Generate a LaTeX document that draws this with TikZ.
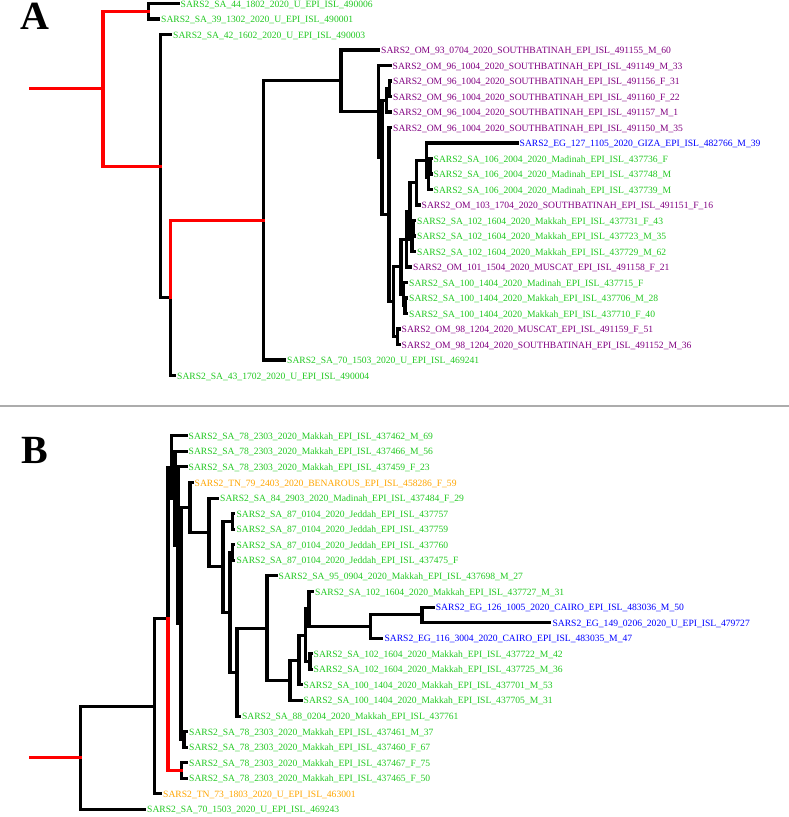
\documentclass[tikz,border=0pt]{standalone}
\usepackage{fontspec}
\setmainfont{Liberation Serif}
\definecolor{cg}{RGB}{34,200,34}
\definecolor{cp}{RGB}{128,0,128}
\definecolor{cb}{RGB}{0,0,255}
\definecolor{co}{RGB}{255,165,0}
\definecolor{cr}{RGB}{255,0,0}
\tikzset{
  lab/.style={anchor=base west, inner sep=0pt, xshift=2.5pt, yshift=-3.5pt, font=\fontsize{9.6}{11}\selectfont},
  br/.style={line width=3.1pt, line cap=rect, line join=miter, draw=black},
  rd/.style={br, draw=cr},
  sepline/.style={draw=gray!65, line width=1.3pt},
  panel/.style={anchor=base west, inner sep=0pt, font=\fontsize{40}{40}\selectfont\bfseries}
}
\newcommand\mkleaf[4]{\coordinate (#1) at (#2); \node[lab,text=#3] (t#1) at (#1) {\detokenize{#4}};}
\newcommand\edg[3][br]{\draw[#1] (#2) |- (#3);}
\begin{document}
\begin{tikzpicture}[x=1pt,y=-1pt]
\useasboundingbox (0,0) rectangle (789,817);
\node[panel] (pA) at (20.5,29.8) {A};
\node[panel] (pB) at (21,463.3) {B};
\coordinate (sl) at (0,406);
\coordinate (sr) at (789,406);
\draw[sepline] (sl) -- (sr);
% ---------- Panel A leaves
\mkleaf{a1}{178,3.5}{cg}{SARS2_SA_44_1802_2020_U_EPI_ISL_490006}
\mkleaf{a2}{158.5,19}{cg}{SARS2_SA_39_1302_2020_U_EPI_ISL_490001}
\mkleaf{a3}{170.5,34.5}{cg}{SARS2_SA_42_1602_2020_U_EPI_ISL_490003}
\mkleaf{a4}{378.5,50}{cp}{SARS2_OM_93_0704_2020_SOUTHBATINAH_EPI_ISL_491155_M_60}
\mkleaf{a5}{390,65.5}{cp}{SARS2_OM_96_1004_2020_SOUTHBATINAH_EPI_ISL_491149_M_33}
\mkleaf{a6}{390.5,81}{cp}{SARS2_OM_96_1004_2020_SOUTHBATINAH_EPI_ISL_491156_F_31}
\mkleaf{a7}{390.5,96.5}{cp}{SARS2_OM_96_1004_2020_SOUTHBATINAH_EPI_ISL_491160_F_22}
\mkleaf{a8}{390.5,112}{cp}{SARS2_OM_96_1004_2020_SOUTHBATINAH_EPI_ISL_491157_M_1}
\mkleaf{a9}{390.5,127.5}{cp}{SARS2_OM_96_1004_2020_SOUTHBATINAH_EPI_ISL_491150_M_35}
\mkleaf{a10}{517,143}{cb}{SARS2_EG_127_1105_2020_GIZA_EPI_ISL_482766_M_39}
\mkleaf{a11}{431,158.5}{cg}{SARS2_SA_106_2004_2020_Madinah_EPI_ISL_437736_F}
\mkleaf{a12}{431,174}{cg}{SARS2_SA_106_2004_2020_Madinah_EPI_ISL_437748_M}
\mkleaf{a13}{431,189.5}{cg}{SARS2_SA_106_2004_2020_Madinah_EPI_ISL_437739_M}
\mkleaf{a14}{419,205}{cp}{SARS2_OM_103_1704_2020_SOUTHBATINAH_EPI_ISL_491151_F_16}
\mkleaf{a15}{414.5,220.5}{cg}{SARS2_SA_102_1604_2020_Makkah_EPI_ISL_437731_F_43}
\mkleaf{a16}{414.5,236}{cg}{SARS2_SA_102_1604_2020_Makkah_EPI_ISL_437723_M_35}
\mkleaf{a17}{414.5,251.5}{cg}{SARS2_SA_102_1604_2020_Makkah_EPI_ISL_437729_M_62}
\mkleaf{a18}{410.5,267}{cp}{SARS2_OM_101_1504_2020_MUSCAT_EPI_ISL_491158_F_21}
\mkleaf{a19}{406.5,282.5}{cg}{SARS2_SA_100_1404_2020_Madinah_EPI_ISL_437715_F}
\mkleaf{a20}{406.5,298}{cg}{SARS2_SA_100_1404_2020_Makkah_EPI_ISL_437706_M_28}
\mkleaf{a21}{406.5,313.5}{cg}{SARS2_SA_100_1404_2020_Makkah_EPI_ISL_437710_F_40}
\mkleaf{a22}{399,329}{cp}{SARS2_OM_98_1204_2020_MUSCAT_EPI_ISL_491159_F_51}
\mkleaf{a23}{399,344.5}{cp}{SARS2_OM_98_1204_2020_SOUTHBATINAH_EPI_ISL_491152_M_36}
\mkleaf{a24}{284.5,360}{cg}{SARS2_SA_70_1503_2020_U_EPI_ISL_469241}
\mkleaf{a25}{174.5,375.5}{cg}{SARS2_SA_43_1702_2020_U_EPI_ISL_490004}
% ---------- Panel A internal nodes
\coordinate (rA0) at (30.5,88.73);
\coordinate (rA) at (103,88.73);
\coordinate (Ntop) at (148.5,11.25);
\coordinate (N160) at (160.5,166.22);
\coordinate (N170) at (170.5,297.94);
\coordinate (N263) at (263.5,220.375);
\coordinate (N341) at (341,80.75);
\coordinate (N378) at (378.5,111.5);
\coordinate (X) at (382,157.49);
\coordinate (Y1) at (386.5,100.375);
\coordinate (Y2) at (389.5,88.75);
\coordinate (Z) at (389,214.6);
\coordinate (W) at (393.5,301.7);
\coordinate (P5) at (401,266.64);
\coordinate (P4) at (406.5,239.15);
\coordinate (P3) at (410,211.3);
\coordinate (P2) at (416.5,182.72);
\coordinate (P1) at (426.5,160.44);
\coordinate (N106) at (428.5,177.875);
\coordinate (N106a) at (430,166.25);
\coordinate (N102b) at (412,239.875);
\coordinate (N102) at (413.5,228.25);
\coordinate (N100) at (403.5,294.125);
\coordinate (N100a) at (405,305.75);
\coordinate (NOM) at (397.5,336.75);
% ---------- Panel A branches
\edg{Ntop}{a1} \edg{Ntop}{a2}
\edg{N160}{a3} \edg{N160}{N170}
\edg{N170}{a25}
\edg{N263}{N341} \edg{N263}{a24}
\edg{N341}{a4} \edg{N341}{N378}
\edg{N378}{a5} \edg{N378}{X}
\edg{X}{Y1} \edg{X}{Z}
\edg{Y1}{Y2} \edg{Y1}{a8}
\edg{Y2}{a6} \edg{Y2}{a7}
\edg{Z}{a9} \edg{Z}{W}
\edg{W}{P5} \edg{W}{NOM}
\edg{NOM}{a22} \edg{NOM}{a23}
\edg{P5}{P4} \edg{P5}{N100}
\edg{N100}{a19} \edg{N100}{N100a}
\edg{N100a}{a20} \edg{N100a}{a21}
\edg{P4}{P3} \edg{P4}{a18}
\edg{P3}{P2} \edg{P3}{N102b}
\edg{N102b}{N102} \edg{N102b}{a17}
\edg{N102}{a15} \edg{N102}{a16}
\edg{P2}{P1} \edg{P2}{a14}
\edg{P1}{a10} \edg{P1}{N106}
\edg{N106}{N106a} \edg{N106}{a13}
\edg{N106a}{a11} \edg{N106a}{a12}
\draw[rd] (rA0) -- (rA);
\edg[rd]{rA}{Ntop} \edg[rd]{rA}{N160}
\edg[rd]{N170}{N263}
% ---------- Panel B leaves
\mkleaf{b1}{186,435.8}{cg}{SARS2_SA_78_2303_2020_Makkah_EPI_ISL_437462_M_69}
\mkleaf{b2}{186,451.37}{cg}{SARS2_SA_78_2303_2020_Makkah_EPI_ISL_437466_M_56}
\mkleaf{b3}{186,466.94}{cg}{SARS2_SA_78_2303_2020_Makkah_EPI_ISL_437459_F_23}
\mkleaf{b4}{192,482.51}{co}{SARS2_TN_79_2403_2020_BENAROUS_EPI_ISL_458286_F_59}
\mkleaf{b5}{217.5,498.08}{cg}{SARS2_SA_84_2903_2020_Madinah_EPI_ISL_437484_F_29}
\mkleaf{b6}{233.8,513.65}{cg}{SARS2_SA_87_0104_2020_Jeddah_EPI_ISL_437757}
\mkleaf{b7}{233.8,529.22}{cg}{SARS2_SA_87_0104_2020_Jeddah_EPI_ISL_437759}
\mkleaf{b8}{233.8,544.79}{cg}{SARS2_SA_87_0104_2020_Jeddah_EPI_ISL_437760}
\mkleaf{b9}{233.8,560.36}{cg}{SARS2_SA_87_0104_2020_Jeddah_EPI_ISL_437475_F}
\mkleaf{b10}{276,575.93}{cg}{SARS2_SA_95_0904_2020_Makkah_EPI_ISL_437698_M_27}
\mkleaf{b11}{312.5,591.5}{cg}{SARS2_SA_102_1604_2020_Makkah_EPI_ISL_437727_M_31}
\mkleaf{b12}{433.2,607.07}{cb}{SARS2_EG_126_1005_2020_CAIRO_EPI_ISL_483036_M_50}
\mkleaf{b13}{549.8,622.64}{cb}{SARS2_EG_149_0206_2020_U_EPI_ISL_479727}
\mkleaf{b14}{381.8,638.21}{cb}{SARS2_EG_116_3004_2020_CAIRO_EPI_ISL_483035_M_47}
\mkleaf{b15}{311,653.78}{cg}{SARS2_SA_102_1604_2020_Makkah_EPI_ISL_437722_M_42}
\mkleaf{b16}{311,669.35}{cg}{SARS2_SA_102_1604_2020_Makkah_EPI_ISL_437725_M_36}
\mkleaf{b17}{301,684.92}{cg}{SARS2_SA_100_1404_2020_Makkah_EPI_ISL_437701_M_53}
\mkleaf{b18}{301,700.49}{cg}{SARS2_SA_100_1404_2020_Makkah_EPI_ISL_437705_M_31}
\mkleaf{b19}{239.3,716.06}{cg}{SARS2_SA_88_0204_2020_Makkah_EPI_ISL_437761}
\mkleaf{b20}{186.5,731.63}{cg}{SARS2_SA_78_2303_2020_Makkah_EPI_ISL_437461_M_37}
\mkleaf{b21}{186.5,747.2}{cg}{SARS2_SA_78_2303_2020_Makkah_EPI_ISL_437460_F_67}
\mkleaf{b22}{186.5,762.77}{cg}{SARS2_SA_78_2303_2020_Makkah_EPI_ISL_437467_F_75}
\mkleaf{b23}{186.5,778.34}{cg}{SARS2_SA_78_2303_2020_Makkah_EPI_ISL_437465_F_50}
\mkleaf{b24}{160.5,793.91}{co}{SARS2_TN_73_1803_2020_U_EPI_ISL_463001}
\mkleaf{b25}{144.5,809.48}{cg}{SARS2_SA_70_1503_2020_U_EPI_ISL_469243}
% ---------- Panel B internal nodes
\coordinate (rB0) at (30.5,757.92);
\coordinate (rB) at (80.5,757.92);
\coordinate (NB1) at (154.5,706.36);
\coordinate (NB2) at (168,618.8);
\coordinate (NB3) at (171.5,467.05);
\coordinate (NB4) at (175,498.3);
\coordinate (NB5) at (178,545.2);
\coordinate (NB6) at (181,623.45);
\coordinate (NB8) at (190,507.5);
\coordinate (NBig) at (209,532.5);
\coordinate (NJ) at (223,566.9);
\coordinate (NJ1) at (232.3,521.4);
\coordinate (NJ2) at (230,612.3);
\coordinate (NJ3) at (232.5,552.58);
\coordinate (NM) at (237,672.1);
\coordinate (NK) at (267,628.1);
\coordinate (NL) at (290,680.3);
\coordinate (NL1) at (299,660.1);
\coordinate (NN) at (305.5,635.3);
\coordinate (NO) at (309,609.0);
\coordinate (NP) at (310,661.57);
\coordinate (NEg) at (370.5,626.53);
\coordinate (NEg2) at (422,614.855);
\coordinate (N2021) at (184,739.4);
\coordinate (NBr) at (181.5,770.56);
% ---------- Panel B branches
\edg{rB}{NB1} \edg{rB}{b25}
\edg{NB1}{NB2} \edg{NB1}{b24}
\edg{NB2}{NB3}
\edg{NBr}{b22} \edg{NBr}{b23}
\edg{NB3}{b1} \edg{NB3}{NB4}
\edg{NB4}{b2} \edg{NB4}{NB5}
\edg{NB5}{b3} \edg{NB5}{NB6}
\edg{NB6}{NB8} \edg{NB6}{N2021}
\edg{N2021}{b20} \edg{N2021}{b21}
\edg{NB8}{b4} \edg{NB8}{NBig}
\edg{NBig}{b5} \edg{NBig}{NJ}
\edg{NJ}{NJ1} \edg{NJ}{NJ2}
\edg{NJ1}{b6} \edg{NJ1}{b7}
\edg{NJ2}{NJ3} \edg{NJ2}{NM}
\edg{NJ3}{b8} \edg{NJ3}{b9}
\edg{NM}{NK} \edg{NM}{b19}
\edg{NK}{b10} \edg{NK}{NL}
\edg{NL}{NL1} \edg{NL}{b18}
\edg{NL1}{NN} \edg{NL1}{b17}
\edg{NN}{NO} \edg{NN}{NP}
\edg{NO}{b11} \edg{NO}{NEg}
\edg{NP}{b15} \edg{NP}{b16}
\edg{NEg}{NEg2} \edg{NEg}{b14}
\edg{NEg2}{b12} \edg{NEg2}{b13}
\draw[rd] (rB0) -- (rB);
\edg[rd]{NB2}{NBr}
\end{tikzpicture}
\end{document}
